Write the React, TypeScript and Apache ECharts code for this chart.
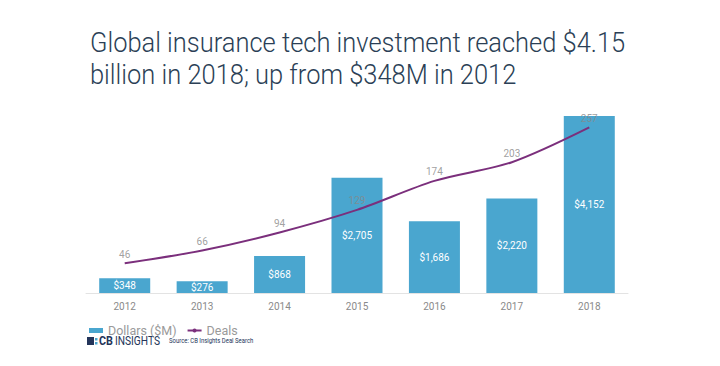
import React, { useEffect, useRef } from "react";
import * as echarts from "echarts";

const years = ["2012", "2013", "2014", "2015", "2016", "2017", "2018"];
const dollars = [348, 276, 868, 2705, 1686, 2220, 4152];
const deals = [46, 66, 94, 129, 174, 203, 257];
const titleLines = [
  "Global insurance tech investment reached $4.15",
  "billion in 2018; up from $348M in 2012",
];

const FONT = "Roboto, 'Noto Sans', sans-serif";

export default function App() {
  const ref = useRef<HTMLDivElement>(null);
  useEffect(() => {
    const chart = echarts.init(ref.current!, null, { renderer: "svg" });
    chart.setOption({
      animation: false,
      backgroundColor: "#ffffff",
      textStyle: { fontFamily: FONT },
      graphic: [
        {
          type: "text",
          x: 90,
          y: 26,
          scaleX: 0.91,
          style: {
            text: titleLines.join("\n"),
            font: `300 28px ${FONT}`,
            lineHeight: 32.5,
            fill: "#2b3f56",
          },
        },
        {
          type: "rect",
          x: 87,
          y: 337,
          shape: { width: 7, height: 8 },
          style: { fill: "#24355a" },
        },
        {
          type: "rect",
          x: 95,
          y: 338,
          shape: { width: 2.5, height: 2.5 },
          style: { fill: "#4aa6cf" },
        },
        {
          type: "rect",
          x: 95,
          y: 342,
          shape: { width: 2.5, height: 2.5 },
          style: { fill: "#4aa6cf" },
        },
        {
          type: "text",
          x: 99,
          y: 335,
          scaleX: 0.9,
          style: {
            text: "CB",
            font: `bold 12px ${FONT}`,
            fill: "#24355a",
          },
        },
        {
          type: "text",
          x: 115,
          y: 335,
          scaleX: 0.85,
          style: {
            text: "INSIGHTS",
            font: `12px ${FONT}`,
            fill: "#24355a",
          },
        },
        {
          type: "text",
          x: 169,
          y: 337.5,
          scaleX: 0.85,
          style: {
            text: "Source: CB Insights Deal Search",
            font: `7px ${FONT}`,
            fill: "#24355a",
          },
        },
      ],
      legend: {
        left: 84,
        top: 319,
        itemWidth: 14,
        itemHeight: 5,
        itemGap: 10,
        textStyle: { color: "#9a9a9a", fontSize: 12.5, fontFamily: FONT },
        data: [
          { name: "Dollars ($M)", icon: "rect" },
          { name: "Deals" },
        ],
      },
      grid: { left: 86, right: 92, top: 114, bottom: 73 },
      xAxis: {
        type: "category",
        data: years,
        axisLine: { lineStyle: { color: "#e3e3e3" } },
        axisTick: { show: false },
        axisLabel: { color: "#8a8a8a", fontSize: 10, margin: 8, fontFamily: FONT },
      },
      yAxis: [
        { type: "value", min: 0, max: 4200, show: false, splitLine: { show: false } },
        { type: "value", min: 0, max: 277.8, show: false, splitLine: { show: false } },
      ],
      series: [
        {
          name: "Dollars ($M)",
          type: "bar",
          data: dollars,
          barWidth: 51,
          itemStyle: { color: "#4aa6cf" },
          label: {
            show: true,
            position: "inside",
            color: "#ffffff",
            fontSize: 10,
            fontFamily: FONT,
            formatter: (p: any) => "$" + p.value.toLocaleString("en-US"),
          },
        },
        {
          name: "Deals",
          type: "line",
          yAxisIndex: 1,
          data: deals,
          smooth: 0.3,
          symbol: "none",
          lineStyle: { color: "#7b2f7c", width: 2 },
          itemStyle: { color: "#7b2f7c" },
        },
        {
          name: "Deals labels",
          type: "scatter",
          yAxisIndex: 1,
          data: deals,
          symbolSize: 0.01,
          itemStyle: { color: "rgba(0,0,0,0)" },
          silent: true,
          label: {
            show: true,
            position: "top",
            distance: 4,
            color: "#888888",
            fontSize: 10,
            fontFamily: FONT,
          },
        },
      ],
    });
    return () => chart.dispose();
  }, []);
  return <div ref={ref} style={{ width: 720, height: 366, position: "absolute", left: 0, top: 0 }} />;
}
